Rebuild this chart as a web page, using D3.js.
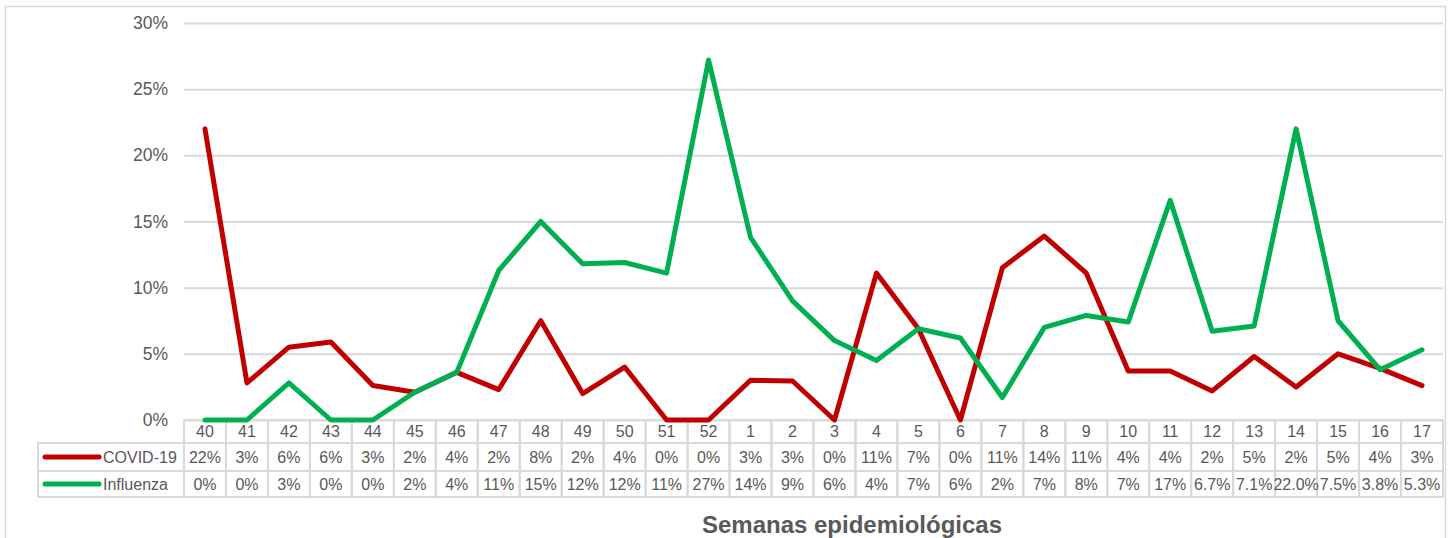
<!DOCTYPE html>
<html>
<head>
<meta charset="utf-8">
<script src="https://cdn.jsdelivr.net/npm/d3@7"></script>
<style>
  body { margin: 0; background: #fff; }
  svg { display: block; font-family: "Liberation Sans", Arial, sans-serif; }
  .grid line { stroke: #d9d9d9; stroke-width: 2; }
  .grid path { display: none; }
  .grid text { fill: #595959; font-size: 17.5px; }
  .cell { fill: none; stroke: #d9d9d9; stroke-width: 2; }
  .tbl { fill: #595959; font-size: 16px; }
</style>
</head>
<body>
<svg width="1449" height="538"></svg>
<script>
// semanas epidemiologicas
const weeks = ["40","41","42","43","44","45","46","47","48","49","50","51","52",
  "1","2","3","4","5","6","7","8","9","10","11","12","13","14","15","16","17"];

// positividad (fraccion)
const covid = [0.220, 0.028, 0.055, 0.059, 0.026, 0.021, 0.036, 0.023, 0.075, 0.020,
  0.040, 0.000, 0.000, 0.030, 0.0295, 0.000, 0.111, 0.069, 0.000, 0.115,
  0.139, 0.111, 0.037, 0.037, 0.022, 0.048, 0.025, 0.050, 0.039, 0.026];
const influenza = [0.000, 0.000, 0.028, 0.000, 0.000, 0.021, 0.036, 0.113, 0.150, 0.118,
  0.119, 0.111, 0.272, 0.138, 0.090, 0.060, 0.045, 0.069, 0.062, 0.017,
  0.070, 0.079, 0.074, 0.166, 0.067, 0.071, 0.220, 0.075, 0.038, 0.053];

// etiquetas de la tabla de datos
const covidLabels = ["22%","3%","6%","6%","3%","2%","4%","2%","8%","2%","4%","0%","0%",
  "3%","3%","0%","11%","7%","0%","11%","14%","11%","4%","4%","2%","5%","2%","5%","4%","3%"];
const fluLabels = ["0%","0%","3%","0%","0%","2%","4%","11%","15%","12%","12%","11%","27%",
  "14%","9%","6%","4%","7%","6%","2%","7%","8%","7%","17%","6.7%","7.1%","22.0%","7.5%","3.8%","5.3%"];

const yTicks = [0, 0.05, 0.10, 0.15, 0.20, 0.25, 0.30];

const series = [
  {name: "COVID-19", values: covid, labels: covidLabels, color: "#c00000"},
  {name: "Influenza", values: influenza, labels: fluLabels, color: "#00b050"}
];

const svg = d3.select("svg");
const plotLeft = 184, plotRight = 1443, plotTop = 23, plotBottom = 420;
const rowH = [23, 28, 26];
const legendLeft = 38;

// marco del area del grafico
svg.append("rect")
  .attr("x", 5.5).attr("y", 6.5).attr("width", 1440).attr("height", 560)
  .attr("fill", "none").attr("stroke", "#d9d9d9").attr("stroke-width", 1.5);

const x = d3.scaleBand().domain(weeks).range([plotLeft, plotRight]).padding(0);
const y = d3.scaleLinear().domain([0, 0.30]).range([plotBottom, plotTop]);

svg.append("g")
  .attr("class", "grid")
  .attr("transform", "translate(" + plotLeft + ",0)")
  .call(d3.axisLeft(y).tickValues(yTicks).tickFormat(d3.format(".0%"))
    .tickSize(-(plotRight - plotLeft)).tickPadding(16));

// tabla de datos
const table = svg.append("g");
const y1 = plotBottom, y2 = y1 + rowH[0], y3 = y2 + rowH[1];

table.selectAll(".hdr")
  .data(weeks)
  .enter().append("rect")
  .attr("class", "cell hdr")
  .attr("x", d => x(d)).attr("y", y1)
  .attr("width", x.bandwidth()).attr("height", rowH[0]);

table.selectAll(".hdrtxt")
  .data(weeks)
  .enter().append("text")
  .attr("class", "tbl hdrtxt")
  .attr("x", d => x(d) + x.bandwidth() / 2)
  .attr("y", y1 + rowH[0] / 2)
  .attr("dy", "0.35em")
  .attr("text-anchor", "middle")
  .text(d => d);

series.forEach((s, k) => {
  const ry = k === 0 ? y2 : y3;
  const rh = rowH[k + 1];
  const row = table.append("g");
  row.append("rect").attr("class", "cell")
    .attr("x", legendLeft).attr("y", ry)
    .attr("width", plotLeft - legendLeft).attr("height", rh);
  row.append("line")
    .attr("x1", 45).attr("x2", 99)
    .attr("y1", ry + rh / 2).attr("y2", ry + rh / 2)
    .attr("stroke", s.color).attr("stroke-width", 5)
    .attr("stroke-linecap", "round");
  row.append("text").attr("class", "tbl")
    .attr("x", 103).attr("y", ry + rh / 2).attr("dy", "0.35em")
    .text(s.name);
  row.selectAll("rect.val")
    .data(weeks)
    .enter().append("rect")
    .attr("class", "cell val")
    .attr("x", d => x(d)).attr("y", ry)
    .attr("width", x.bandwidth()).attr("height", rh);
  row.selectAll("text.val")
    .data(s.labels)
    .enter().append("text")
    .attr("class", "tbl val")
    .attr("x", (d, i) => x(weeks[i]) + x.bandwidth() / 2)
    .attr("y", ry + rh / 2).attr("dy", "0.35em")
    .attr("text-anchor", "middle")
    .text(d => d);
});

// lineas (encima de la tabla)
const line = d3.line()
  .x((d, i) => x(weeks[i]) + x.bandwidth() / 2)
  .y(d => y(d));

svg.selectAll(".serie")
  .data(series)
  .enter().append("path")
  .attr("class", "serie")
  .attr("d", d => line(d.values))
  .attr("fill", "none")
  .attr("stroke", d => d.color)
  .attr("stroke-width", 5)
  .attr("stroke-linejoin", "round")
  .attr("stroke-linecap", "round");

// titulo del eje x
svg.append("text")
  .attr("x", 852).attr("y", 533)
  .attr("text-anchor", "middle")
  .attr("fill", "#595959")
  .attr("font-size", "24px")
  .attr("font-weight", "bold")
  .text("Semanas epidemiológicas");
</script>
</body>
</html>
